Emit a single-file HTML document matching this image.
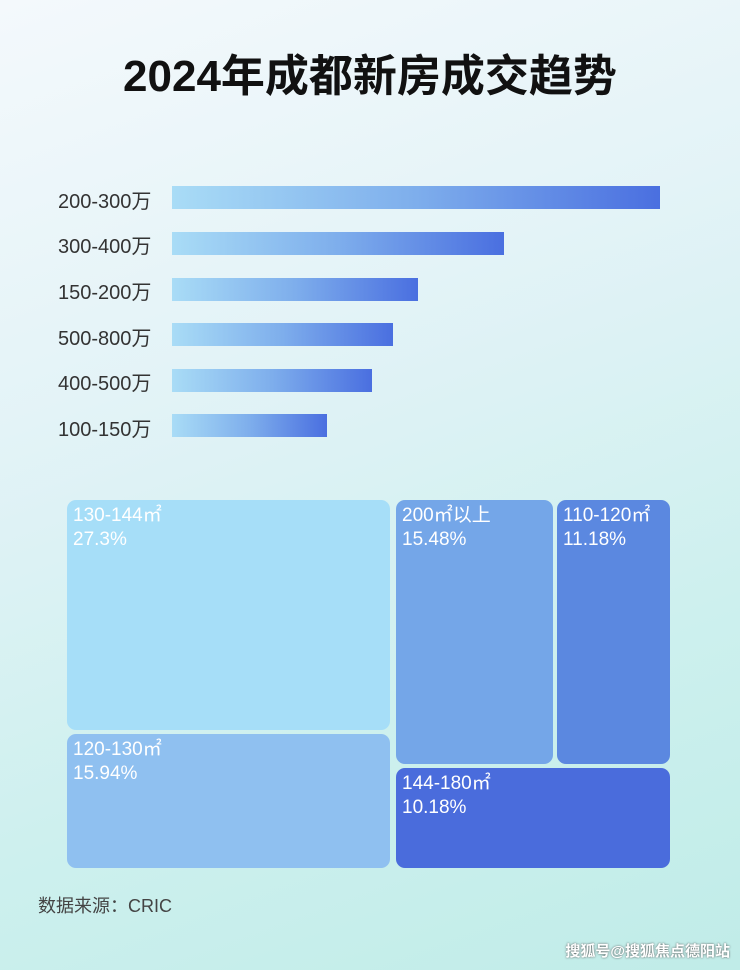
<!DOCTYPE html>
<html><head><meta charset="utf-8"><style>
body{margin:0}
#p{position:relative;width:740px;height:970px;overflow:hidden;font-family:"Liberation Sans","Noto Sans CJK SC",sans-serif;
background:linear-gradient(160deg,#f4f9fc 0%,#e3f3f7 35%,#cdf0ee 70%,#c0ece8 100%);}
.t{position:absolute;left:0;width:740px;top:40px;text-align:center;font-size:44px;font-weight:bold;color:#111;}
.l{position:absolute;left:58px;font-size:20px;color:#333;width:110px;}
.b{position:absolute;left:172px;height:23px;background:linear-gradient(90deg,#a9dcf6,#7eaeec 50%,#4a6fe0);}
.r{position:absolute;border-radius:9px;color:#fff;font-size:19px;line-height:24px;padding:4px 0 0 6px;box-sizing:border-box;}
.s{position:absolute;left:38px;top:892px;font-size:18px;color:#444;}
.w{position:absolute;right:10px;top:940px;font-size:15px;color:#fff;font-weight:bold;text-shadow:0 0 2px #555;}
</style></head><body><div id="p">
<div class="t">2024年成都新房成交趋势</div>
<div class="l" style="top:185px">200-300万</div><div class="b" style="top:186px;width:488px"></div>
<div class="l" style="top:230px">300-400万</div><div class="b" style="top:232px;width:332px"></div>
<div class="l" style="top:276px">150-200万</div><div class="b" style="top:278px;width:246px"></div>
<div class="l" style="top:322px">500-800万</div><div class="b" style="top:323px;width:221px"></div>
<div class="l" style="top:367px">400-500万</div><div class="b" style="top:369px;width:200px"></div>
<div class="l" style="top:413px">100-150万</div><div class="b" style="top:414px;width:155px"></div>
<div class="r" style="left:67px;top:500px;width:323px;height:230px;background:#a6def8">130-144㎡<br>27.3%</div>
<div class="r" style="left:67px;top:734px;width:323px;height:134px;background:#8fc0f0">120-130㎡<br>15.94%</div>
<div class="r" style="left:396px;top:500px;width:157px;height:264px;background:#74a6e8">200㎡以上<br>15.48%</div>
<div class="r" style="left:557px;top:500px;width:113px;height:264px;background:#5b88e0">110-120㎡<br>11.18%</div>
<div class="r" style="left:396px;top:768px;width:274px;height:100px;background:#4a6cdc">144-180㎡<br>10.18%</div>
<div class="s">数据来源：CRIC</div>
<div class="w">搜狐号@搜狐焦点德阳站</div>
</div></body></html>
